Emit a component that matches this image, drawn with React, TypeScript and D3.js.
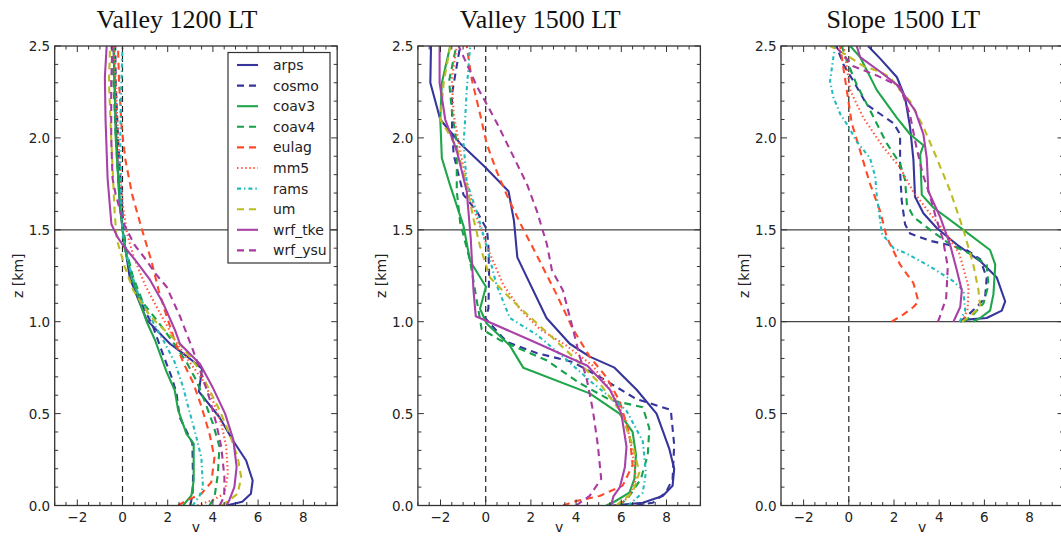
import React from 'react';
import * as d3 from 'd3';

type Pt = [number, number]; // [v, z]

const seriesNames = ['arps', 'cosmo', 'coav3', 'coav4', 'eulag', 'mm5', 'rams', 'um', 'wrf_tke', 'wrf_ysu'];
const seriesColors = ['#35359b', '#35359b', '#1fa64a', '#16a04a', '#ff4a28', '#ff5a40', '#22bcbc', '#bcbc22', '#a842a8', '#a83aa0'];
const seriesDashes = ['', '7,5', '', '7,5', '7,5', '1.5,2.6', '4,3,1.4,3', '7,5', '', '7,5'];
const panelTitles = ['Valley 1200 LT', 'Valley 1500 LT', 'Slope 1500 LT'];
const panelRefLines = [[1.5], [1.5], [1.5, 1.0]];
const xTickValues = [-2, 0, 2, 4, 6, 8];
const yTickValues = [0, 0.5, 1.0, 1.5, 2.0, 2.5];

// ---------- Valley 1200 LT ----------
const v12_arps: Pt[] = [[4.6,0],[5.3,0.02],[5.68,0.064],[5.76,0.136],[5.47,0.245],[4.88,0.355],[4.29,0.48],[3.38,0.62],[3.52,0.745],[2.97,0.8],[2.1,0.88],[1.07,1.01],[0.7,1.12],[0.32,1.24],[0.06,1.45],[-0.12,1.63],[-0.27,2.0],[-0.35,2.3],[-0.4,2.5]];
const v12_cosmo: Pt[] = [[3.0,0],[3.1,0.06],[3.12,0.15],[3.09,0.34],[2.53,0.48],[2.39,0.61],[2.17,0.7],[1.8,0.82],[1.36,0.97],[0.92,1.08],[0.5,1.2],[0.2,1.35],[0.05,1.5],[-0.05,1.7],[-0.2,2.0],[-0.3,2.3],[-0.32,2.5]];
const v12_coav3: Pt[] = [[2.68,0],[3.05,0.055],[3.15,0.136],[3.15,0.336],[2.83,0.39],[2.46,0.52],[2.31,0.627],[1.95,0.727],[1.44,0.9],[1.07,1.0],[0.78,1.1],[0.4,1.25],[0.1,1.4],[0.0,1.5],[-0.15,1.7],[-0.3,2.0],[-0.35,2.3],[-0.38,2.5]];
const v12_coav4: Pt[] = [[3.85,0],[4.07,0.045],[4.22,0.17],[4.29,0.32],[4.0,0.445],[3.63,0.57],[3.27,0.68],[2.83,0.78],[2.17,0.9],[1.51,1.01],[0.92,1.1],[0.45,1.25],[0.15,1.4],[0.0,1.5],[-0.15,1.7],[-0.3,2.0],[-0.4,2.3],[-0.45,2.5]];
const v12_eulag: Pt[] = [[2.46,0],[2.83,0.027],[3.49,0.064],[3.93,0.127],[4.07,0.26],[3.85,0.39],[3.49,0.54],[3.12,0.67],[2.68,0.78],[2.3,0.9],[1.9,1.05],[1.6,1.17],[1.28,1.33],[0.84,1.51],[0.43,1.69],[0.13,1.88],[-0.04,2.06],[-0.15,2.3],[-0.2,2.5]];
const v12_mm5: Pt[] = [[3.3,0],[4.0,0.03],[4.51,0.064],[4.66,0.17],[4.59,0.32],[4.37,0.445],[4.0,0.57],[3.56,0.68],[2.91,0.79],[2.32,0.9],[1.6,1.06],[1.0,1.2],[0.5,1.35],[0.2,1.48],[0.0,1.65],[-0.2,2.0],[-0.3,2.3],[-0.35,2.5]];
const v12_rams: Pt[] = [[3.1,0],[3.4,0.05],[3.56,0.1],[3.49,0.26],[3.19,0.41],[2.9,0.54],[2.68,0.645],[2.31,0.78],[1.8,0.9],[1.2,1.03],[0.7,1.15],[0.3,1.3],[0.05,1.45],[-0.05,1.6],[-0.1,2.0],[-0.05,2.3],[0.0,2.5]];
const v12_um: Pt[] = [[4.4,0],[5.1,0.064],[5.25,0.155],[5.1,0.26],[4.73,0.39],[4.29,0.52],[3.85,0.627],[3.4,0.74],[2.6,0.87],[1.9,0.95],[1.22,1.03],[0.48,1.17],[0.1,1.3],[-0.26,1.45],[-0.35,1.6],[-0.5,2.0],[-0.6,2.3],[-0.55,2.5]];
const v12_wrf_tke: Pt[] = [[4.6,0],[4.73,0.03],[4.95,0.1],[5.05,0.21],[4.9,0.36],[4.54,0.5],[4.0,0.64],[3.43,0.77],[2.54,0.88],[2.32,0.955],[1.8,1.1],[1.22,1.227],[0.6,1.33],[0.0,1.42],[-0.22,1.46],[-0.49,1.53],[-0.66,1.78],[-0.75,2.1],[-0.78,2.33],[-0.7,2.5]];
const v12_wrf_ysu: Pt[] = [[4.3,0],[4.5,0.05],[4.51,0.155],[4.37,0.32],[4.15,0.445],[3.87,0.574],[3.43,0.74],[3.06,0.865],[2.54,1.03],[1.95,1.19],[1.47,1.26],[0.96,1.35],[0.52,1.42],[0.07,1.53],[-0.3,1.69],[-0.44,1.78],[-0.5,2.0],[-0.5,2.3],[-0.45,2.5]];

// ---------- Valley 1500 LT ----------
const v15_arps: Pt[] = [[5.62,0],[6.95,0.015],[7.83,0.052],[8.27,0.108],[8.34,0.2],[8.12,0.31],[7.56,0.5],[6.68,0.63],[5.7,0.75],[4.6,0.81],[3.72,0.88],[2.69,1.02],[1.75,1.26],[1.4,1.35],[1.25,1.55],[1.01,1.71],[-0.02,1.84],[-1.13,1.97],[-2.01,2.1],[-2.45,2.3],[-2.42,2.5]];
const v15_cosmo: Pt[] = [[6.65,0],[7.39,0.015],[7.97,0.07],[8.27,0.145],[8.34,0.33],[8.19,0.52],[6.65,0.58],[5.04,0.7],[3.86,0.78],[2.25,0.83],[0.93,0.89],[-0.03,1.02],[0.12,1.07],[0.15,1.26],[0.12,1.41],[0.06,1.5],[-0.39,1.6],[-0.98,1.69],[-1.42,1.91],[-1.49,2.06],[-1.49,2.24],[-1.27,2.4],[-1.13,2.5]];
const v15_coav3: Pt[] = [[5.33,0],[5.62,0.015],[6.36,0.07],[6.58,0.145],[6.65,0.275],[6.5,0.4],[5.92,0.5],[4.6,0.61],[1.66,0.75],[1.07,0.87],[0.04,0.99],[-0.25,1.07],[0.01,1.19],[-0.69,1.33],[-0.98,1.52],[-1.57,1.74],[-1.94,1.89],[-2.01,2.1],[-1.94,2.3],[-1.57,2.5]];
const v15_coav4: Pt[] = [[5.92,0],[6.36,0.052],[6.87,0.145],[7.17,0.275],[7.24,0.42],[6.95,0.535],[5.5,0.574],[4.17,0.665],[2.69,0.79],[0.63,0.9],[-0.18,0.96],[-0.47,1.17],[-0.69,1.33],[-1.13,1.54],[-1.28,1.71],[-1.28,1.97],[-1.5,2.15],[-1.62,2.31],[-1.3,2.5]];
const v15_eulag: Pt[] = [[3.42,0],[4.0,0.024],[5.04,0.052],[6.06,0.108],[6.5,0.22],[6.36,0.39],[5.92,0.57],[5.33,0.7],[4.6,0.81],[3.86,0.96],[3.13,1.15],[2.39,1.33],[1.51,1.54],[0.93,1.69],[0.48,1.82],[0.04,1.97],[-0.25,2.13],[-0.62,2.32],[-0.84,2.5]];
const v15_mm5: Pt[] = [[5.9,0],[6.36,0.052],[6.65,0.145],[6.5,0.29],[6.21,0.46],[5.62,0.61],[4.74,0.76],[3.57,0.87],[2.39,0.96],[1.51,1.07],[0.78,1.2],[0.19,1.37],[-0.32,1.54],[-0.76,1.71],[-1.13,1.93],[-1.42,2.13],[-1.5,2.32],[-1.28,2.5]];
const v15_rams: Pt[] = [[6.3,0],[6.95,0.07],[7.09,0.18],[6.95,0.35],[6.21,0.52],[4.74,0.665],[3.42,0.81],[2.25,0.93],[1.07,1.02],[0.48,1.2],[0.04,1.41],[-0.4,1.6],[-0.84,1.76],[-0.98,1.97],[-0.91,2.1],[-0.84,2.26],[-0.69,2.5]];
const v15_um: Pt[] = [[5.77,0],[6.5,0.07],[6.8,0.18],[6.5,0.33],[5.92,0.52],[5.04,0.665],[3.86,0.81],[2.54,0.96],[1.22,1.11],[0.19,1.24],[-0.25,1.41],[-0.54,1.56],[-0.84,1.74],[-1.28,1.95],[-2.01,2.1],[-1.86,2.3],[-1.57,2.5]];
const v15_wrf_tke: Pt[] = [[5.55,0],[5.65,0.05],[5.94,0.1],[6.16,0.21],[6.23,0.32],[6.0,0.5],[5.5,0.63],[4.5,0.76],[1.96,0.9],[-0.44,1.03],[-0.54,1.17],[-0.66,1.45],[-0.84,1.71],[-1.28,1.93],[-1.79,2.1],[-2.04,2.3],[-2.04,2.5]];
const v15_wrf_ysu: Pt[] = [[4.0,0],[4.6,0.052],[5.11,0.145],[4.96,0.33],[4.74,0.52],[4.45,0.7],[4.16,0.81],[3.86,0.96],[3.42,1.17],[2.93,1.28],[2.71,1.42],[2.27,1.6],[1.82,1.75],[1.38,1.86],[0.94,1.97],[0.5,2.08],[0.06,2.18],[-0.39,2.28],[-0.68,2.36],[-1.2,2.5]];

// ---------- Slope 1500 LT ----------
const s15_arps: Pt[] = [[4.93,1.0],[5.07,1.01],[6.1,1.02],[6.77,1.06],[6.92,1.11],[6.55,1.24],[5.81,1.33],[4.78,1.42],[3.89,1.51],[3.3,1.59],[2.93,1.68],[2.86,1.88],[2.71,2.06],[2.49,2.22],[2.13,2.33],[1.4,2.43],[0.85,2.5]];
const s15_cosmo: Pt[] = [[4.93,1.0],[5.22,1.03],[5.66,1.08],[6.03,1.13],[6.1,1.24],[5.81,1.34],[5.22,1.39],[4.34,1.42],[3.6,1.44],[2.71,1.48],[2.49,1.53],[2.34,1.66],[2.27,1.82],[2.27,2.02],[1.98,2.08],[1.39,2.13],[0.8,2.18],[0.2,2.31],[-0.24,2.4],[-0.55,2.5]];
const s15_coav3: Pt[] = [[5.5,1.0],[5.81,1.02],[6.25,1.06],[6.4,1.15],[6.48,1.31],[6.25,1.39],[5.07,1.5],[3.75,1.62],[3.23,1.69],[3.16,1.91],[3.3,1.96],[2.71,2.02],[2.12,2.11],[1.24,2.26],[0.5,2.44],[0.06,2.5]];
const s15_coav4: Pt[] = [[5.07,1.0],[5.44,1.03],[5.96,1.1],[6.18,1.2],[6.1,1.31],[5.37,1.37],[4.49,1.42],[3.6,1.5],[2.86,1.57],[2.57,1.64],[2.49,1.77],[2.27,1.86],[1.68,1.97],[0.94,2.15],[0.35,2.29],[-0.09,2.42],[-0.31,2.5]];
const s15_eulag: Pt[] = [[1.9,1.0],[2.42,1.04],[2.86,1.08],[3.08,1.11],[2.86,1.21],[2.27,1.31],[1.68,1.46],[1.39,1.6],[0.94,1.75],[0.5,1.93],[0.13,2.08],[-0.09,2.26],[-0.24,2.38],[-0.38,2.5]];
const s15_mm5: Pt[] = [[5.04,1.0],[5.26,1.07],[5.3,1.19],[4.89,1.37],[4.31,1.48],[3.58,1.59],[2.84,1.71],[2.26,1.84],[1.52,1.95],[0.64,2.11],[0.06,2.26],[-0.23,2.5]];
const s15_rams: Pt[] = [[4.9,1.0],[5.15,1.06],[5.07,1.17],[4.63,1.22],[3.6,1.3],[2.57,1.37],[1.98,1.4],[1.46,1.48],[1.39,1.55],[1.24,1.68],[1.17,1.79],[0.94,1.89],[0.35,1.98],[-0.01,2.06],[-0.38,2.13],[-0.68,2.22],[-0.83,2.31],[-0.68,2.44],[-0.6,2.5]];
const s15_um: Pt[] = [[5.0,1.0],[5.37,1.03],[5.81,1.08],[5.74,1.17],[5.51,1.31],[5.07,1.5],[4.49,1.71],[3.89,1.89],[3.3,2.06],[2.71,2.2],[2.26,2.26],[1.83,2.33],[1.38,2.36],[0.64,2.39],[-0.09,2.45],[-0.82,2.5]];
const s15_wrf_tke: Pt[] = [[4.63,1.0],[4.93,1.08],[5.0,1.17],[4.78,1.28],[4.48,1.42],[4.04,1.57],[3.52,1.71],[3.45,1.89],[3.3,2.02],[2.93,2.15],[2.12,2.29],[1.39,2.36],[0.5,2.44],[0.35,2.5]];
const s15_wrf_ysu: Pt[] = [[3.94,1.0],[4.01,1.02],[4.31,1.13],[4.38,1.3],[4.16,1.45],[3.87,1.56],[3.58,1.69],[3.28,1.8],[2.99,1.95],[2.7,2.13],[2.26,2.28],[1.23,2.34],[0.2,2.39],[-0.6,2.5]];

const panelSeries: Pt[][][] = [
  [v12_arps, v12_cosmo, v12_coav3, v12_coav4, v12_eulag, v12_mm5, v12_rams, v12_um, v12_wrf_tke, v12_wrf_ysu],
  [v15_arps, v15_cosmo, v15_coav3, v15_coav4, v15_eulag, v15_mm5, v15_rams, v15_um, v15_wrf_tke, v15_wrf_ysu],
  [s15_arps, s15_cosmo, s15_coav3, s15_coav4, s15_eulag, s15_mm5, s15_rams, s15_um, s15_wrf_tke, s15_wrf_ysu],
];

const W = 1061;
const H = 536;
const TOP = 46;
const BOTTOM = 505.5;
const PX_PER_UNIT = 22.6;
const PANEL_LEFTS = [54.7, 417.9, 781.0];
const FONT = 'DejaVu Sans, Bitstream Vera Sans, sans-serif';

function Panel({ idx }: { idx: number }) {
  const left = PANEL_LEFTS[idx];
  const right = left + 12.5 * PX_PER_UNIT;
  const x = d3.scaleLinear().domain([-3, 9.5]).range([left, right]);
  const y = d3.scaleLinear().domain([0, 2.5]).range([BOTTOM, TOP]);
  const line = d3.line<Pt>().x(d => x(d[0])).y(d => y(d[1]));
  const minorX = d3.range(-3, 9.51, 0.5).filter(v => Math.abs(v / 2 - Math.round(v / 2)) > 1e-6);
  const minorY = d3.range(0, 2.501, 0.1).filter(v => Math.abs(v * 2 - Math.round(v * 2)) > 1e-6);
  const clipId = `clip${idx}`;
  const cx = (left + right) / 2;
  const fmtY = d3.format('.1f');
  const fmtX = d3.format('d');
  const maj = 6;
  const mnr = 3.5;
  const tickStroke = '#333';
  return (
    <g>
      <defs>
        <clipPath id={clipId}>
          <rect x={left} y={TOP} width={right - left} height={BOTTOM - TOP} />
        </clipPath>
      </defs>
      <text x={cx - 19} y={27.5} textAnchor="middle" fontFamily="Liberation Serif, Times New Roman, serif" fontSize={26} fill="#111">
        {panelTitles[idx]}
      </text>
      {/* reference lines */}
      <g clipPath={`url(#${clipId})`}>
        <line x1={x(0)} x2={x(0)} y1={TOP} y2={BOTTOM} stroke="#222" strokeWidth={1.2} strokeDasharray="6,4" />
        {panelRefLines[idx].map(z => (
          <line key={z} x1={left} x2={right} y1={y(z)} y2={y(z)} stroke="#444" strokeWidth={1.3} />
        ))}
        {panelSeries[idx].map((pts, i) => (
          <path key={seriesNames[i]} d={line(pts) || ''} fill="none" stroke={seriesColors[i]} strokeWidth={2.1}
            strokeDasharray={seriesDashes[i] || undefined} strokeLinejoin="round" />
        ))}
      </g>
      {/* ticks */}
      <g stroke={tickStroke} strokeWidth={1}>
        {xTickValues.map(v => (
          <g key={'xm' + v}>
            <line x1={x(v)} x2={x(v)} y1={BOTTOM} y2={BOTTOM - maj} />
            <line x1={x(v)} x2={x(v)} y1={TOP} y2={TOP + maj} />
          </g>
        ))}
        {minorX.map(v => (
          <g key={'xn' + v}>
            <line x1={x(v)} x2={x(v)} y1={BOTTOM} y2={BOTTOM - mnr} />
            <line x1={x(v)} x2={x(v)} y1={TOP} y2={TOP + mnr} />
          </g>
        ))}
        {yTickValues.map(v => (
          <g key={'ym' + v}>
            <line x1={left} x2={left + maj} y1={y(v)} y2={y(v)} />
            <line x1={right} x2={right - maj} y1={y(v)} y2={y(v)} />
          </g>
        ))}
        {minorY.map(v => (
          <g key={'yn' + v}>
            <line x1={left} x2={left + mnr} y1={y(v)} y2={y(v)} />
            <line x1={right} x2={right - mnr} y1={y(v)} y2={y(v)} />
          </g>
        ))}
      </g>
      <rect x={left} y={TOP} width={right - left} height={BOTTOM - TOP} fill="none" stroke="#333" strokeWidth={1.3} />
      {/* tick labels */}
      <g fontFamily={FONT} fontSize={13.5} fill="#222">
        {xTickValues.map(v => (
          <text key={'xl' + v} x={x(v)} y={522} textAnchor="middle">{fmtX(v)}</text>
        ))}
        {yTickValues.map(v => (
          <text key={'yl' + v} x={left - 4.5} y={y(v)} textAnchor="end" dominantBaseline="central">{fmtY(v)}</text>
        ))}
      </g>
      <text x={cx} y={532} textAnchor="middle" fontFamily={FONT} fontSize={14} fill="#222">v</text>
      <text transform={`translate(${left - 37},${(TOP + BOTTOM) / 2}) rotate(-90)`} textAnchor="middle"
        dominantBaseline="central" fontFamily={FONT} fontSize={14} fill="#222">z [km]</text>
    </g>
  );
}

function Legend() {
  const bx = 228, by = 52.5, bw = 102, bh = 210.5;
  const row0 = 65, dy = 20.6;
  return (
    <g>
      <rect x={bx} y={by} width={bw} height={bh} fill="#fff" stroke="#333" strokeWidth={1.2} />
      {seriesNames.map((n, i) => (
        <g key={n}>
          <line x1={237} x2={258} y1={row0 + i * dy} y2={row0 + i * dy} stroke={seriesColors[i]} strokeWidth={2.1}
            strokeDasharray={seriesDashes[i] || undefined} />
          <text x={273} y={row0 + i * dy} dominantBaseline="central" fontFamily={FONT} fontSize={14} fill="#222">{n}</text>
        </g>
      ))}
    </g>
  );
}

export default function App() {
  return (
    <svg width={W} height={H} style={{ position: 'absolute', left: 0, top: 0, background: '#fff' }}>
      <rect x={0} y={0} width={W} height={H} fill="#fff" />
      {[0, 1, 2].map(i => <Panel key={i} idx={i} />)}
      <Legend />
    </svg>
  );
}
